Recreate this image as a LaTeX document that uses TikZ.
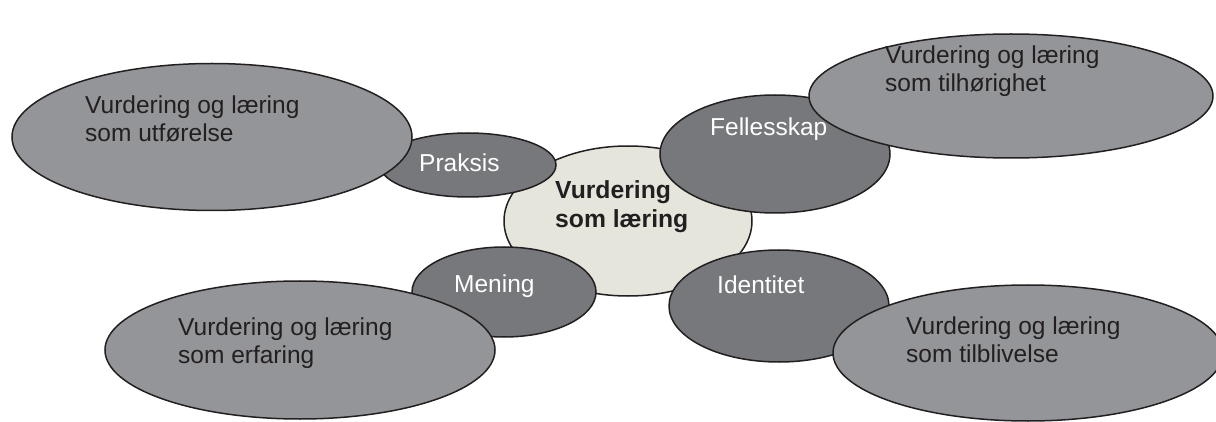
\documentclass[tikz,border=0pt]{standalone}
\usepackage{fontspec}
\setmainfont{Liberation Sans}
\usetikzlibrary{shapes.geometric}
\definecolor{bigfill}{RGB}{147,149,152}
\definecolor{smallfill}{RGB}{119,120,123}
\definecolor{centerfill}{RGB}{229,229,219}
\definecolor{ink}{RGB}{35,31,32}
\tikzset{
  oval/.style={ellipse, draw=ink, line width=1.5pt, inner sep=0pt},
  bigoval/.style={oval, fill=bigfill},
  smalloval/.style={oval, fill=smallfill},
  centeroval/.style={oval, fill=centerfill},
  bigtext/.style={anchor=base west, inner sep=0pt, text=ink, align=left,
    font=\fontsize{24.5}{29}\selectfont},
  smalltext/.style={anchor=base west, inner sep=0pt, text=white,
    font=\fontsize{24.5}{29}\selectfont},
  centertext/.style={anchor=base west, inner sep=0pt, text=ink, align=left,
    font=\fontsize{24.7}{31}\selectfont\bfseries},
}
\begin{document}
\begin{tikzpicture}[x=1pt,y=-1pt]
\useasboundingbox (0,0) rectangle (1216,422);
\clip (0,0) rectangle (1216,422);
% central
\node[centeroval, minimum width=248pt, minimum height=150pt] (c) at (628,221) {};
% small ovals
\node[smalloval, minimum width=176pt, minimum height=64pt] (praksis) at (468,165) {};
\node[smalloval, minimum width=230pt, minimum height=118pt] (felles) at (775,154) {};
\node[smalloval, minimum width=184pt, minimum height=90pt] (mening) at (504,292) {};
\node[smalloval, minimum width=220pt, minimum height=112pt] (ident) at (779,306) {};
% big ovals
\node[bigoval, minimum width=400pt, minimum height=147pt] (utf) at (212,137) {};
\node[bigoval, minimum width=404pt, minimum height=124pt] (tilh) at (1011,96) {};
\node[bigoval, minimum width=390pt, minimum height=138pt] (erf) at (300,350) {};
\node[bigoval, minimum width=390pt, minimum height=136pt] (tilb) at (1028,353) {};
% texts
\node[centertext] (ct1) at (555,199) {Vurdering};
\node[centertext] (ct2) at (555,228) {som læring};
\node[smalltext] (tp) at (419,172) {Praksis};
\node[smalltext] (tf) at (710,136) {Fellesskap};
\node[smalltext] (tm) at (454,292) {Mening};
\node[smalltext] (ti) at (717,294) {Identitet};
\node[bigtext] (tu1) at (85,114) {Vurdering og læring};
\node[bigtext] (tu2) at (85,142) {som utførelse};
\node[bigtext] (th1) at (885,64) {Vurdering og læring};
\node[bigtext] (th2) at (885,92) {som tilhørighet};
\node[bigtext] (te1) at (178,335) {Vurdering og læring};
\node[bigtext] (te2) at (178,363) {som erfaring};
\node[bigtext] (tb1) at (906,334) {Vurdering og læring};
\node[bigtext] (tb2) at (906,362) {som tilblivelse};
\end{tikzpicture}
\end{document}
